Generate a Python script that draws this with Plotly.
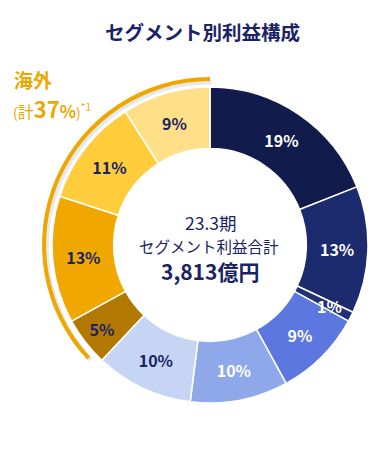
import math
import plotly.graph_objects as go

segments = ["A", "B", "C", "D", "E", "F", "G", "H", "I", "J"]
shares = [19, 13, 1, 9, 10, 10, 5, 13, 11, 9]
colors = ["#111c4d", "#1c2a6e", "#22307a", "#5c78e0", "#8fa8ea", "#c7d5f5",
          "#b37800", "#f0a800", "#ffcd3c", "#ffdf88"]
label_colors = ["white", "white", "white", "white", "white", "#1a2366",
                "#1a2366", "#1a2366", "#1a2366", "#1a2366"]
small_idx = 2  # 1% slice labelled separately
arc_span_deg = 133  # overseas marker arc, ending at 12 o'clock
navy = "#1a2366"
gold = "#eda700"
cjk = "Noto Sans CJK JP"

W, H = 377, 460
OFF = 8  # page body margin
CX, CY, R = 210, 245, 158


def fx(px):
    return (px - OFF) / W


def fy(py):
    return 1 - (py - OFF) / H


def dom(cx, cy, r):
    return dict(x=[fx(cx - r), min(1.0, fx(cx + r))], y=[fy(cy + r), fy(cy - r)])


fig = go.Figure()

# soft shadow under the arc
fig.add_trace(go.Pie(
    values=[360 - arc_span_deg, arc_span_deg],
    marker=dict(colors=["rgba(0,0,0,0)", "rgba(110,110,110,0.16)"], line=dict(width=0)),
    hole=0.972, sort=False, direction="clockwise", rotation=0,
    textinfo="none", hoverinfo="skip", showlegend=False,
    domain=dom(CX + 1.5, CY + 2, 167.5),
))
# outer arc marking overseas
fig.add_trace(go.Pie(
    values=[360 - arc_span_deg, arc_span_deg],
    marker=dict(colors=["rgba(0,0,0,0)", gold], line=dict(width=0)),
    hole=0.976, sort=False, direction="clockwise", rotation=0,
    textinfo="none", hoverinfo="skip", showlegend=False,
    domain=dom(CX, CY, 168),
))

fig.add_trace(go.Pie(
    labels=segments, values=shares,
    text=[f"{v}%" for v in shares],
    textinfo="text",
    textposition=["none" if i == small_idx else "inside" for i in range(len(shares))],
    insidetextorientation="horizontal",
    textfont=dict(size=16, color=label_colors, family=cjk, weight="bold"),
    marker=dict(colors=colors, line=dict(color="white", width=1.5)),
    hole=0.61, sort=False, direction="clockwise", rotation=0,
    showlegend=False, hoverinfo="skip",
    domain=dom(CX, CY, R),
))

# label of the thin slice, placed at its mid-angle
before = sum(shares[:small_idx]) + shares[small_idx] / 2
ang = math.radians(before / sum(shares) * 360)
lr = 134
small_x = CX + lr * math.sin(ang)
small_y = CY - lr * math.cos(ang)

ann = [
    dict(x=fx(202), y=fy(31), text="<b>セグメント別利益構成</b>", font=dict(size=19.5, color=navy, family=cjk)),
    dict(x=fx(211), y=fy(222), text="23.3期", font=dict(size=17.5, color=navy, family=cjk)),
    dict(x=fx(209), y=fy(246), text="セグメント利益合計", font=dict(size=15.5, color=navy, family=cjk)),
    dict(x=fx(210), y=fy(271), text="<b>3,813億円</b>", font=dict(size=21, color=navy, family=cjk)),
    dict(x=fx(12), y=fy(79), text="<b>海外</b>", xanchor="left", font=dict(size=19, color=gold, family=cjk)),
    dict(x=fx(11), y=fy(108),
         text="<span style='font-size:14px'>(</span>計<b><span style='font-size:22px'>37</span>"
              "<span style='font-size:17px'>%</span></b><span style='font-size:14px'>)</span>"
              "<sup><span style='font-size:10px'>*1</span></sup>",
         xanchor="left", font=dict(size=16, color=gold, family=cjk)),
    dict(x=fx(small_x), y=fy(small_y), text=f"<b>{shares[small_idx]}%</b>",
         font=dict(size=16, color=label_colors[small_idx], family=cjk)),
]
for a in ann:
    a.setdefault("xanchor", "center")
    a.update(xref="paper", yref="paper", yanchor="middle", showarrow=False)

fig.update_layout(
    width=W, height=H, margin=dict(l=0, r=0, t=0, b=0),
    paper_bgcolor="white", plot_bgcolor="white",
    annotations=ann,
    uniformtext=dict(minsize=16, mode="show"),
)

fig.write_html("out.html")
